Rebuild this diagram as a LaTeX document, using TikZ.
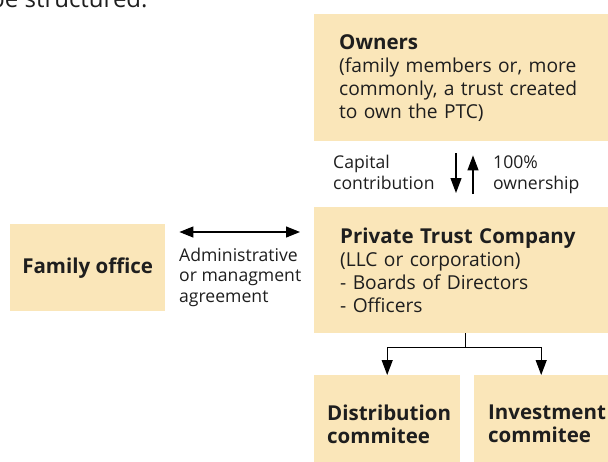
\documentclass[tikz,border=0pt]{standalone}
\usepackage{fontspec}
\setmainfont{Open Sans}
\usetikzlibrary{arrows.meta}
\definecolor{boxtan}{RGB}{250,230,185}
\definecolor{inktext}{RGB}{30,30,30}
\newcommand\boxhead[1]{{\fontsize{20.5}{23}\selectfont\bfseries #1}}
\begin{document}
\begin{tikzpicture}[x=1pt,y=-1pt,
    box/.style={fill=boxtan,inner ysep=0pt,anchor=north west,align=left,
      font=\fontsize{19.2}{23}\selectfont,text=inktext},
    lbl/.style={inner sep=0pt,anchor=base west,align=left,
      font=\fontsize{17.6}{20.5}\selectfont,text=inktext},
    arr/.style={line width=1.2pt,-{Triangle[length=15pt,width=11pt]}},
    dbl/.style={line width=1.2pt,{Triangle[length=14pt,width=11pt]}-{Triangle[length=14pt,width=11pt]}}]
  \useasboundingbox (0,0) rectangle (608,461);
  \node[lbl,font=\fontsize{24}{28}\selectfont] (intro) at (-10,7) {be structured.};
  % the boxes
  \node[box,text width=252pt,inner xsep=25pt,minimum height=127pt] (own) at (314,14)
    {\boxhead{Owners}\\(family members or, more\\commonly, a trust created\\to own the PTC)};
  \node[box,text width=250pt,inner xsep=26pt,minimum height=126pt] (ptc) at (314,207)
    {\boxhead{Private Trust Company}\\(LLC or corporation)\\- Boards of Directors\\- Officers};
  \node[box,align=center,inner xsep=0pt,minimum width=155pt,minimum height=87pt] (fam) at (10,224)
    {\boxhead{Family office}};
  \node[box,text width=120pt,inner xsep=13pt,minimum height=98pt] (dist) at (314,375)
    {\boxhead{Distribution}\\\boxhead{commitee}};
  \node[box,text width=106pt,inner xsep=14pt,minimum height=98pt] (inv) at (474,375)
    {\boxhead{Investment}\\\boxhead{commitee}};
  % labels (placed at the last line)
  \node[lbl] (cap) at (333,189) {Capital\\contribution};
  \node[lbl] (pct) at (493,189) {100\%\\ownership};
  \node[lbl] (agr) at (179,302) {Administrative\\or managment\\agreement};
  % connectors
  \draw[arr,shorten <=12pt,shorten >=14pt] (own.south -| 456,0) -- (ptc.north -| 456,0);
  \draw[arr,shorten <=13pt,shorten >=14pt] (ptc.north -| 473,0) -- (own.south -| 473,0);
  \draw[dbl,shorten <=14pt,shorten >=14pt] (fam.east |- 0,232) -- (ptc.west |- 0,232);
  \draw[arr] (ptc.south) -- ++(0,14) -| (dist.north);
  \draw[arr] (ptc.south) -- ++(0,14) -| (inv.north);
\end{tikzpicture}
\end{document}
